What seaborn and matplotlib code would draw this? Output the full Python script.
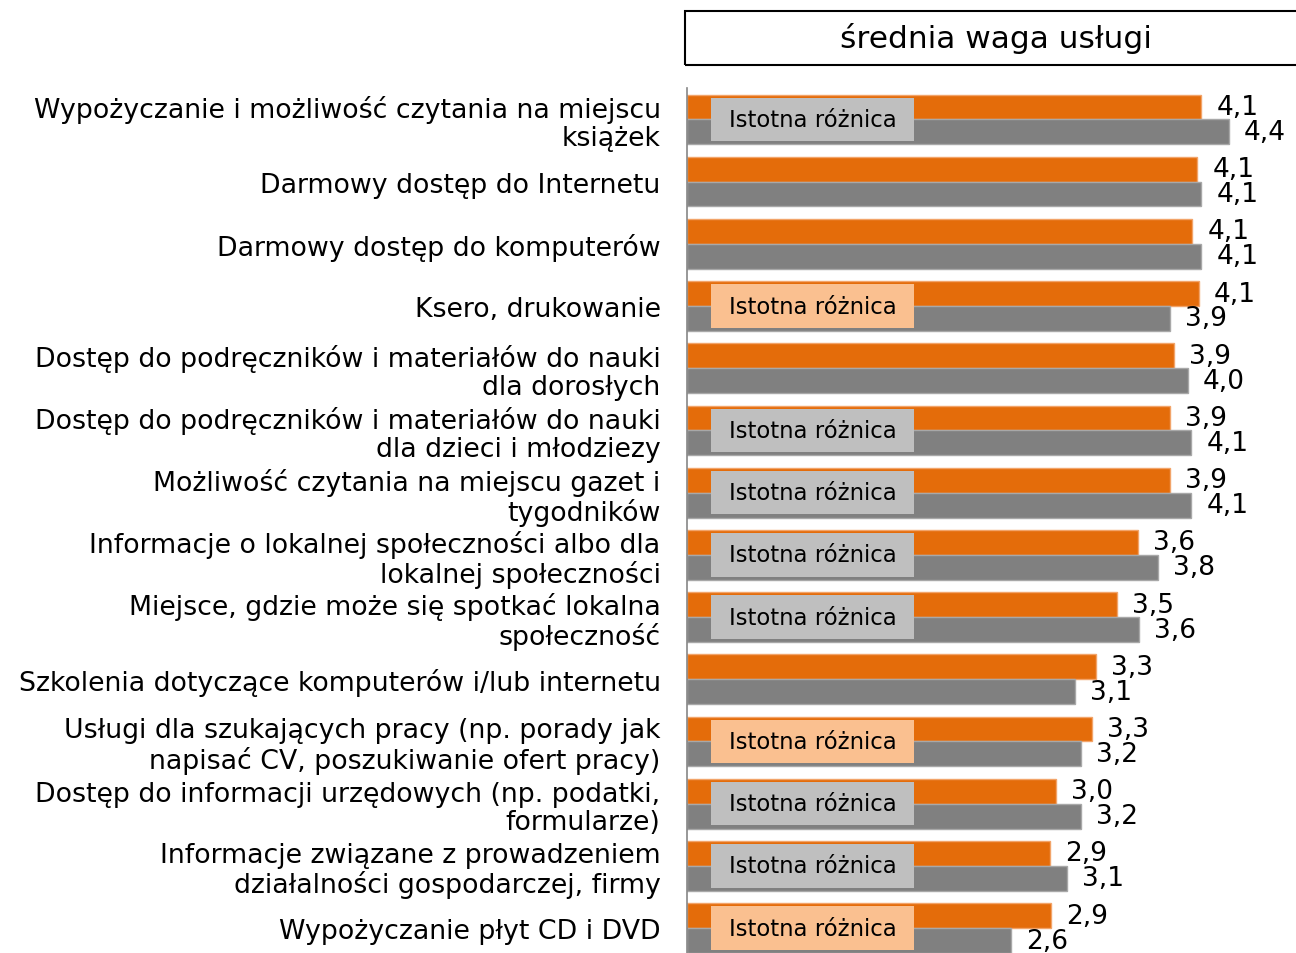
import pandas as pd
import matplotlib.pyplot as plt
import seaborn as sns
from matplotlib.patches import Rectangle

# dane
uslugi = [
    "Wypożyczanie i możliwość czytania na miejscu\nksiążek",
    "Darmowy dostęp do Internetu",
    "Darmowy dostęp do komputerów",
    "Ksero, drukowanie",
    "Dostęp do podręczników i materiałów do nauki\ndla dorosłych",
    "Dostęp do podręczników i materiałów do nauki\ndla dzieci i młodziezy",
    "Możliwość czytania na miejscu gazet i\ntygodników",
    "Informacje o lokalnej społeczności albo dla\nlokalnej społeczności",
    "Miejsce, gdzie może się spotkać lokalna\nspołeczność",
    "Szkolenia dotyczące komputerów i/lub internetu",
    "Usługi dla szukających pracy (np. porady jak\nnapisać CV, poszukiwanie ofert pracy)",
    "Dostęp do informacji urzędowych (np. podatki,\nformularze)",
    "Informacje związane z prowadzeniem\ndziałalności gospodarczej, firmy",
    "Wypożyczanie płyt CD i DVD",
]
wartosci_pomaranczowe = [4.14, 4.11, 4.07, 4.12, 3.92, 3.89, 3.89, 3.63, 3.46, 3.29, 3.26, 2.97, 2.92, 2.93]
wartosci_szare = [4.36, 4.14, 4.14, 3.89, 4.03, 4.06, 4.06, 3.79, 3.64, 3.12, 3.17, 3.17, 3.06, 2.61]
istotna_roznica = [True, False, False, True, False, True, True, True, True, False, True, True, True, True]

SERIE = ["grupa 1", "grupa 2"]
KOLORY = {"grupa 1": "#E46C0A", "grupa 2": "#808080"}
KRAWEDZIE = ["#F2A46A", "#A8A8A8"]
KOLOR_WYZEJ_POM = "#FAC090"
KOLOR_WYZEJ_SZARE = "#BFBFBF"

W, H = 1296, 954
OS_X0, OS_TOP, PX_NA_JEDN = 687, 89.3, 124.2


def fmt(v):
    return f"{v:.1f}".replace(".", ",")


df = pd.DataFrame({
    "usługa": uslugi * 2,
    "wartość": wartosci_pomaranczowe + wartosci_szare,
    "grupa": [SERIE[0]] * len(uslugi) + [SERIE[1]] * len(uslugi),
})

sns.set_style("white")
plt.rcParams["font.family"] = ["DejaVu Sans"]
plt.rcParams["text.color"] = "black"
plt.rcParams["ytick.labelcolor"] = "black"

fig = plt.figure(figsize=(W / 100, H / 100), dpi=100)
ax = fig.add_axes([OS_X0 / W, 0, (W - OS_X0) / W, 1 - OS_TOP / H])

sns.barplot(data=df, x="wartość", y="usługa", hue="grupa", order=uslugi,
            hue_order=SERIE, palette=KOLORY, orient="h", width=0.8, gap=0,
            saturation=1, errorbar=None, legend=False, ax=ax)

for cont, vals, kr in zip(ax.containers, [wartosci_pomaranczowe, wartosci_szare], KRAWEDZIE):
    for bar in cont:
        bar.set_edgecolor(kr)
        bar.set_linewidth(1)
    ax.bar_label(cont, labels=[fmt(v) for v in vals], padding=11, fontsize=19, color="black")

for i, sig in enumerate(istotna_roznica):
    if not sig:
        continue
    kolor = KOLOR_WYZEJ_POM if wartosci_pomaranczowe[i] > wartosci_szare[i] else KOLOR_WYZEJ_SZARE
    ax.add_patch(Rectangle((0.19, i - 0.35), 1.64, 0.70, facecolor=kolor,
                           edgecolor="none", zorder=3))
    ax.text(1.01, i, "Istotna różnica", ha="center", va="center",
            fontsize=16.4, color="black", zorder=4)

ax.set_xlim(0, (W - OS_X0) / PX_NA_JEDN)
ax.set_ylim(len(uslugi) - 0.6, -0.5)
ax.set_xlabel("")
ax.set_ylabel("")
ax.set_xticks([])
ax.set_yticks([i - 0.5 for i in range(len(uslugi))], minor=True)
ax.tick_params(axis="y", which="major", length=0, pad=19, labelsize=19.3)
ax.tick_params(axis="y", which="minor", length=5, width=1, color="#868686", direction="out")
for t in ax.get_yticklabels():
    t.set_linespacing(1.1)
for s in ["top", "right", "bottom"]:
    ax.spines[s].set_visible(False)
ax.spines["left"].set_color("#868686")
ax.spines["left"].set_linewidth(1.2)

# nagłówek
fig.patches.append(Rectangle((684.7 / W, 1 - 65.7 / H), 1, 54 / H, transform=fig.transFigure,
                             fill=False, edgecolor="black", linewidth=1.5))
fig.text(996 / W, 1 - 39 / H, "średnia waga usługi", ha="center", va="center", fontsize=22.5)

fig.savefig("out.png", dpi=100)
